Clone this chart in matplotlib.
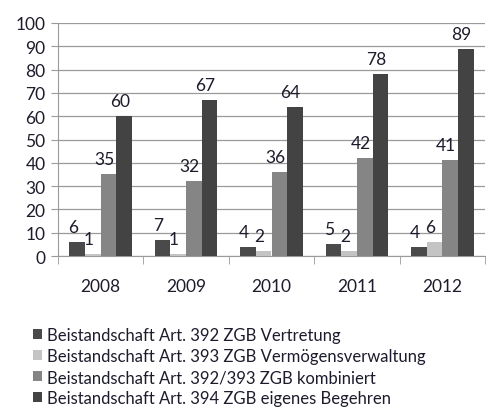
import numpy as np
import matplotlib
matplotlib.use("Agg")
import matplotlib.pyplot as plt

years = ["2008", "2009", "2010", "2011", "2012"]
labels = [
    "Beistandschaft Art. 392 ZGB Vertretung",
    "Beistandschaft Art. 393 ZGB Vermögensverwaltung",
    "Beistandschaft Art. 392/393 ZGB kombiniert",
    "Beistandschaft Art. 394 ZGB eigenes Begehren",
]
art392 = [6, 7, 4, 5, 4]
art393 = [1, 1, 2, 2, 6]
art392_393 = [35, 32, 36, 42, 41]
art394 = [60, 67, 64, 78, 89]
series = [art392, art393, art392_393, art394]
colors = ["#4a4a4a", "#c4c4c4", "#858585", "#434343"]

plt.rcParams['font.family'] = ['Lato', 'DejaVu Sans']
txt = "#1c1c2c"

fig = plt.figure(figsize=(4.89, 4.10), dpi=100)
ax = fig.add_axes([58 / 489, 1 - 257 / 410, 427 / 489, 233 / 410])

x = np.arange(len(years))
w = 0.183
for i, (vals, c, lab) in enumerate(zip(series, colors, labels)):
    pos = x + (i - 1.5) * w
    ax.bar(pos, vals, width=w, color=c, label=lab, zorder=3)
    for p, v in zip(pos, vals):
        ax.text(p - 0.05, v + 3, str(v), ha="center", va="bottom",
                fontsize=12.5, color=txt)

ax.set_xlim(-0.5, len(years) - 0.5)
ax.set_ylim(0, 100)
ax.set_yticks(range(0, 101, 10))
ax.yaxis.grid(True, color="#9a9a9a", linewidth=0.9, zorder=0)
ax.set_xticks(x)
ax.set_xticklabels(years)
ax.set_xticks(np.arange(-0.5, len(years), 1), minor=True)
ax.tick_params(axis="x", which="major", length=0, pad=16, labelsize=12.5, labelcolor=txt)
ax.tick_params(axis="x", which="minor", length=6, color="#9a9a9a", direction="out")
ax.tick_params(axis="y", length=5, color="#9a9a9a", labelsize=12.5, labelcolor=txt, pad=4)
for s in ["top", "right"]:
    ax.spines[s].set_visible(False)
for s in ["left", "bottom"]:
    ax.spines[s].set_color("#9a9a9a")

fig.legend(loc="upper left", bbox_to_anchor=(33 / 489, 1 - 328 / 410), frameon=False,
           fontsize=12, handlelength=0.55, handleheight=0.55, handletextpad=0.3,
           labelspacing=0.3, borderaxespad=0, borderpad=0, labelcolor=txt)

fig.savefig("out.png", dpi=100)
